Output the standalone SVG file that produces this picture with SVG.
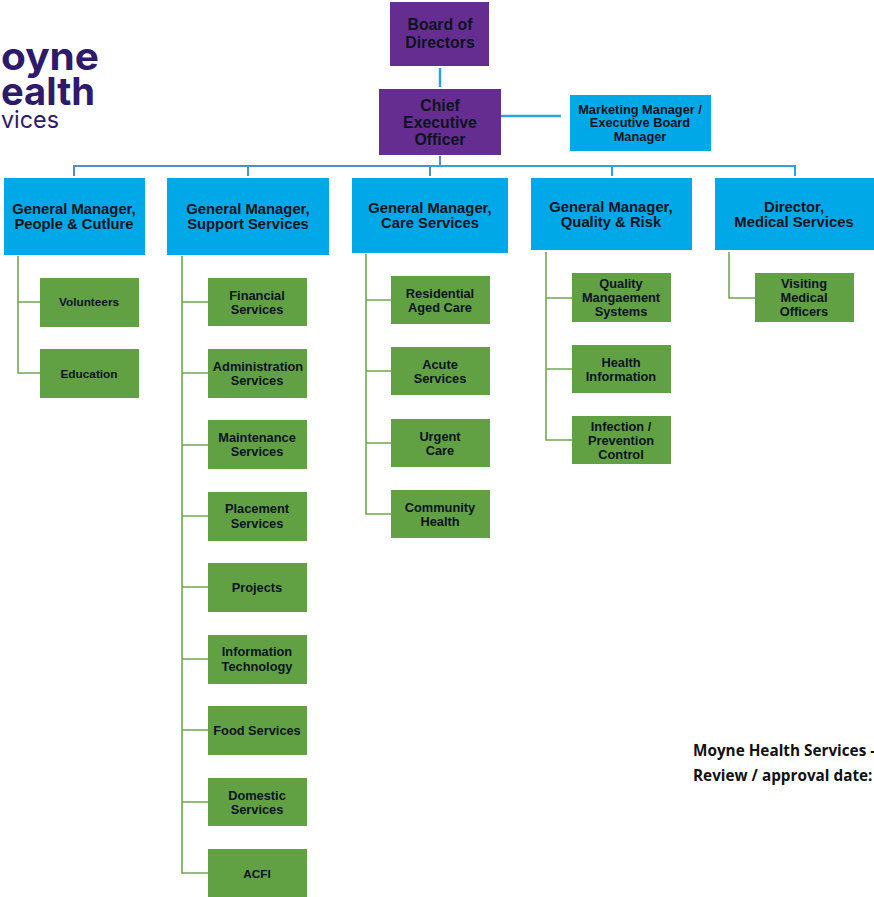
<svg xmlns="http://www.w3.org/2000/svg" width="874" height="897" viewBox="0 0 874 897">
<style>
text{font-family:"Liberation Sans",Arial,sans-serif;font-weight:700;fill:#0c1420;text-anchor:middle}
.p{fill:#662d91}.b{fill:#00a8e8}.g{fill:#62a044}
.tp{font-size:15.8px}.tb{font-size:14.8px}.tm{font-size:12.8px}.tg{font-size:12.8px}.ts{font-size:11.8px}
.lb{fill:none;stroke:#4f8ec9;stroke-width:2}
.lc{fill:none;stroke:#2aa5e0;stroke-width:2.5}
.lh{fill:none;stroke:#2aa5e0;stroke-width:2}
.lg{fill:none;stroke:#70a850;stroke-width:1.6}
text.logo{font-family:"Inter","Liberation Sans",sans-serif;fill:#2e1a6b;text-anchor:start;font-weight:700}
text.logo2{font-family:"Inter","Liberation Sans",sans-serif;fill:#2e1a6b;text-anchor:start;font-weight:400}
text.note{font-family:"Open Sans","Liberation Sans",sans-serif;font-size:15.3px;fill:#111;text-anchor:start}
</style>
<g id="logo">
<text class="logo" x="1" y="70" font-size="39" textLength="98" lengthAdjust="spacingAndGlyphs">oyne</text>
<text class="logo" x="1" y="105" font-size="38" textLength="94" lengthAdjust="spacingAndGlyphs">ealth</text>
<text class="logo2" x="1" y="128" font-size="24" textLength="58" lengthAdjust="spacingAndGlyphs">vices</text>
</g>
<g id="connectors">
<path class="lc" d="M440 68V87"/>
<path class="lc" d="M501 116H561"/>
<path class="lb" d="M440 156V166"/>
<path class="lb" d="M74 176V166H430"/>
<path class="lh" d="M430 166H795V176M612 166V176"/>
<path class="lh" d="M248 166V176" style="stroke:#3fa0b8"/>
<path class="lb" d="M430 166V176"/>
<path class="lg" d="M18 256V373H40M18 302H40"/>
<path class="lg" d="M182 256V873H208M182 302H208M182 373H208M182 445H208M182 516H208M182 587H208M182 659H208M182 730H208M182 802H208"/>
<path class="lg" d="M366 254V514H391M366 300H391M366 371H391M366 443H391"/>
<path class="lg" d="M546 252V440H572M546 298H572M546 369H572"/>
<path class="lg" d="M729 252V298H755"/>
</g>
<g id="board"><rect class="p" x="390" y="2" width="99" height="64"/><text class="tp" x="440" y="30">Board of</text><text class="tp" x="440" y="48">Directors</text></g>
<g id="ceo"><rect class="p" x="379" y="89" width="122" height="66"/><text class="tp" x="440" y="111">Chief</text><text class="tp" x="440" y="128">Executive</text><text class="tp" x="440" y="145">Officer</text></g>
<g id="marketing"><rect class="b" x="570" y="95" width="141" height="56"/><text class="tm" x="640" y="114">Marketing Manager /</text><text class="tm" x="640" y="127">Executive Board</text><text class="tm" x="640" y="141">Manager</text></g>
<g id="gm-people"><rect class="b" x="4" y="178" width="141" height="77"/><text class="tb" x="74" y="214">General Manager,</text><text class="tb" x="74" y="229">People &amp; Cutlure</text></g>
<g id="gm-support"><rect class="b" x="167" y="178" width="162" height="77"/><text class="tb" x="248" y="214">General Manager,</text><text class="tb" x="248" y="229">Support Services</text></g>
<g id="gm-care"><rect class="b" x="352" y="178" width="156" height="75"/><text class="tb" x="430" y="213">General Manager,</text><text class="tb" x="430" y="228">Care Services</text></g>
<g id="gm-quality"><rect class="b" x="531" y="178" width="161" height="72"/><text class="tb" x="611" y="212">General Manager,</text><text class="tb" x="611" y="227">Quality &amp; Risk</text></g>
<g id="dir-medical"><rect class="b" x="715" y="178" width="159" height="72"/><text class="tb" x="794" y="212">Director,</text><text class="tb" x="794" y="227">Medical Services</text></g>
<g id="volunteers"><rect class="g" x="40" y="278" width="99" height="49"/><text class="ts" x="89" y="306">Volunteers</text></g>
<g id="education"><rect class="g" x="40" y="349" width="99" height="49"/><text class="ts" x="89" y="378">Education</text></g>
<g id="financial"><rect class="g" x="208" y="278" width="99" height="48"/><text class="tg" x="257" y="300">Financial</text><text class="tg" x="257" y="314">Services</text></g>
<g id="administration"><rect class="g" x="208" y="349" width="99" height="49"/><text class="tg" x="258" y="371">Administration</text><text class="tg" x="257" y="385">Services</text></g>
<g id="maintenance"><rect class="g" x="208" y="420" width="99" height="49"/><text class="tg" x="257" y="442">Maintenance</text><text class="tg" x="257" y="456">Services</text></g>
<g id="placement"><rect class="g" x="208" y="492" width="99" height="49"/><text class="tg" x="257" y="513">Placement</text><text class="tg" x="257" y="528">Services</text></g>
<g id="projects"><rect class="g" x="208" y="563" width="99" height="49"/><text class="tg" x="257" y="592">Projects</text></g>
<g id="it"><rect class="g" x="208" y="635" width="99" height="49"/><text class="tg" x="257" y="656">Information</text><text class="tg" x="257" y="671">Technology</text></g>
<g id="food"><rect class="g" x="208" y="706" width="99" height="49"/><text class="tg" x="257" y="735">Food Services</text></g>
<g id="domestic"><rect class="g" x="208" y="778" width="99" height="48"/><text class="tg" x="257" y="800">Domestic</text><text class="tg" x="257" y="814">Services</text></g>
<g id="acfi"><rect class="g" x="208" y="849" width="99" height="48"/><text class="ts" x="257" y="878">ACFI</text></g>
<g id="residential"><rect class="g" x="391" y="276" width="99" height="48"/><text class="tg" x="440" y="298">Residential</text><text class="tg" x="440" y="312">Aged Care</text></g>
<g id="acute"><rect class="g" x="391" y="347" width="99" height="48"/><text class="tg" x="440" y="369">Acute</text><text class="tg" x="440" y="383">Services</text></g>
<g id="urgent"><rect class="g" x="391" y="419" width="99" height="48"/><text class="tg" x="440" y="441">Urgent</text><text class="tg" x="440" y="455">Care</text></g>
<g id="community"><rect class="g" x="391" y="490" width="99" height="48"/><text class="tg" x="440" y="512">Community</text><text class="tg" x="440" y="526">Health</text></g>
<g id="qms"><rect class="g" x="572" y="273" width="99" height="49"/><text class="tg" x="621" y="288">Quality</text><text class="tg" x="621" y="302">Mangaement</text><text class="tg" x="621" y="316">Systems</text></g>
<g id="health-info"><rect class="g" x="572" y="345" width="99" height="48"/><text class="tg" x="621" y="367">Health</text><text class="tg" x="621" y="381">Information</text></g>
<g id="infection"><rect class="g" x="572" y="416" width="99" height="48"/><text class="tg" x="621" y="431">Infection /</text><text class="tg" x="621" y="445">Prevention</text><text class="tg" x="621" y="459">Control</text></g>
<g id="visiting"><rect class="g" x="755" y="273" width="99" height="49"/><text class="tg" x="804" y="288">Visiting</text><text class="tg" x="804" y="302">Medical</text><text class="tg" x="804" y="316">Officers</text></g>
<g id="note"><text class="note" x="693" y="756">Moyne Health Services -</text><text class="note" x="693" y="781">Review / approval date:</text></g>
</svg>
